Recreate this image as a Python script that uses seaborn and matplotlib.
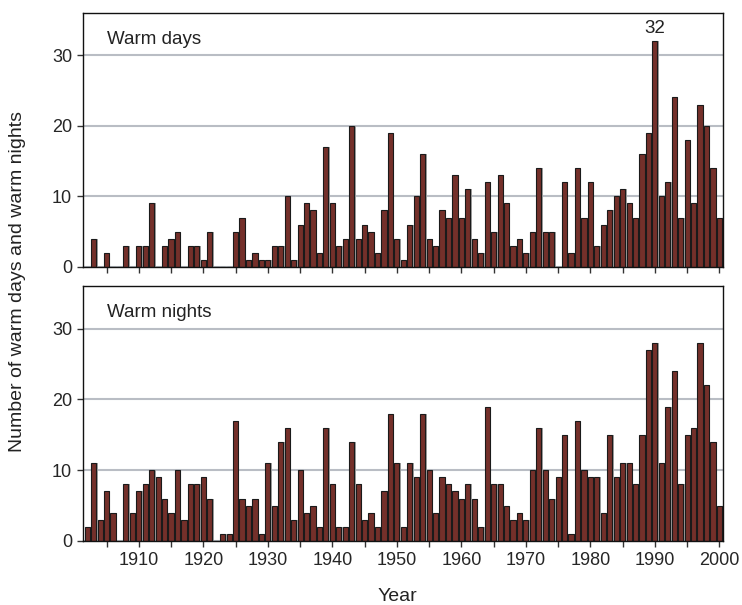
import numpy as np
import pandas as pd
import seaborn as sns
import matplotlib.pyplot as plt

years = list(range(1902, 2001))

warm_days = [
    0, 4, 0, 2, 0, 0, 3, 0, 3, 3,
    9, 0, 3, 4, 5, 0, 3, 3, 1, 5,
    0, 0, 0, 5, 7, 1, 2, 1, 1, 3,
    3, 10, 1, 6, 9, 8, 2, 17, 9, 3,
    4, 20, 4, 6, 5, 2, 8, 19, 4, 1,
    6, 10, 16, 4, 3, 8, 7, 13, 7, 11,
    4, 2, 12, 5, 13, 9, 3, 4, 2, 5,
    14, 5, 5, 0, 12, 2, 14, 7, 12, 3,
    6, 8, 10, 11, 9, 7, 16, 19, 32, 10,
    12, 24, 7, 18, 9, 23, 20, 14, 7,
]

warm_nights = [
    2, 11, 3, 7, 4, 0, 8, 4, 7, 8,
    10, 9, 6, 4, 10, 3, 8, 8, 9, 6,
    0, 1, 1, 17, 6, 5, 6, 1, 11, 5,
    14, 16, 3, 10, 4, 5, 2, 16, 8, 2,
    2, 14, 8, 3, 4, 2, 7, 18, 11, 2,
    11, 9, 18, 10, 4, 9, 8, 7, 6, 8,
    6, 2, 19, 8, 8, 5, 3, 4, 3, 10,
    16, 10, 6, 9, 15, 1, 17, 10, 9, 9,
    4, 15, 9, 11, 11, 8, 15, 27, 28, 11,
    19, 24, 8, 15, 16, 28, 22, 14, 5,
]

panel_titles = ["Warm days", "Warm nights"]
y_ticks = [0, 10, 20, 30]
x_ticks = list(range(1905, 2001, 5))
x_labels = [str(t) if t % 10 == 0 else "" for t in x_ticks]
peak_year = 1990

sns.set_theme(style="white")
plt.rcParams["font.family"] = ["Liberation Sans", "DejaVu Sans"]

bar_color = "#74302a"
grid_color = "#b9bdc4"

fig = plt.figure(figsize=(7.42, 6.05), dpi=100)
ax_top = fig.add_axes([0.1123, 0.5587, 0.8625, 0.4203])
ax_bot = fig.add_axes([0.1123, 0.1058, 0.8625, 0.4210])

for ax, vals, title in zip([ax_top, ax_bot], [warm_days, warm_nights], panel_titles):
    df = pd.DataFrame({"year": years, "count": vals})
    shadow = pd.DataFrame({"year": [y + 0.2 for y in years], "count": vals})

    sns.barplot(data=shadow, x="year", y="count", native_scale=True,
                width=0.8, color="#a0a0a0", saturation=1,
                linewidth=0, ax=ax, zorder=2)
    sns.barplot(data=df, x="year", y="count", native_scale=True,
                width=0.8, color=bar_color, saturation=1,
                edgecolor="#1a1a1a", linewidth=0.8, ax=ax, zorder=3)

    ax.set_xlim(1901.4, 2000.6)
    ax.set_ylim(0, 36)
    ax.set_yticks(y_ticks)
    ax.set_xticks(x_ticks)
    ax.set_xlabel("")
    ax.set_ylabel("")
    ax.set_axisbelow(True)
    ax.yaxis.grid(True, color=grid_color, linewidth=1.5, zorder=0)
    ax.xaxis.grid(False)
    ax.tick_params(axis="both", direction="out", length=4, width=1,
                   color="#333333", labelsize=13, pad=4,
                   bottom=True, left=True)
    for sp in ax.spines.values():
        sp.set_visible(True)
        sp.set_color("#111111")
        sp.set_linewidth(1.0)
        sp.set_zorder(5)
    ax.text(0.037, 0.93, title, transform=ax.transAxes, fontsize=13.5,
            ha="left", va="top", color="#222222")

ax_top.set_xticklabels([])
ax_bot.set_xticklabels(x_labels)

ax_top.text(peak_year, warm_days[years.index(peak_year)] + 0.6, "32",
            ha="center", va="bottom", fontsize=13.5, color="#222222")

fig.text(0.024, 0.535, "Number of warm days and warm nights", rotation=90,
         ha="center", va="center", fontsize=14, color="#222222")
fig.text(0.536, 0.014, "Year", ha="center", va="center",
         fontsize=14, color="#222222")

fig.savefig("out.png", dpi=100)
